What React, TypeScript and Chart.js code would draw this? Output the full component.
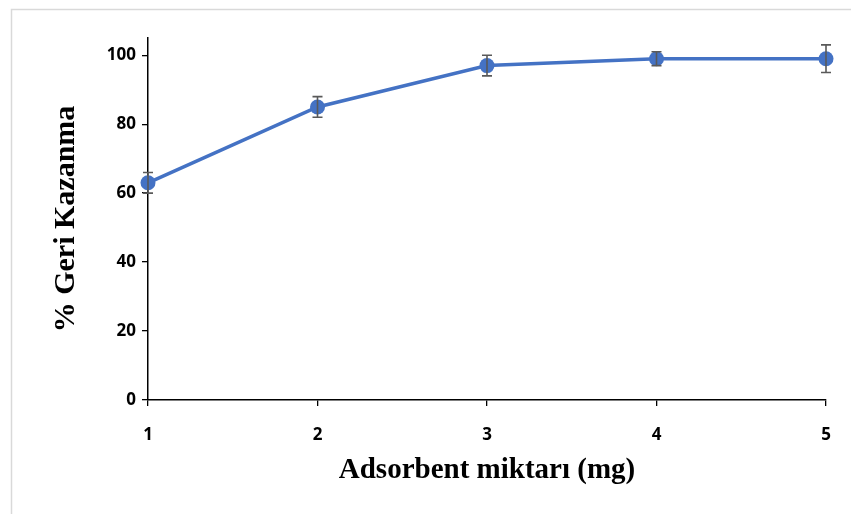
import React, { useEffect, useRef } from "react";
import { Chart, registerables } from "chart.js";

Chart.register(...registerables);

const categories = [1, 2, 3, 4, 5];
const recovery = [63, 85, 97, 99, 99];
const errors = [3, 3, 3, 2, 4];
const yTicks = [0, 20, 40, 60, 80, 100];

const xTitle = "Adsorbent miktarı (mg)";
const yTitle = "% Geri Kazanma";

const frameAndErrorBars = {
  id: "frameAndErrorBars",
  beforeDraw(chart: any) {
    const ctx = chart.ctx;
    ctx.save();
    ctx.strokeStyle = "#d9d9d9";
    ctx.lineWidth = 1.5;
    ctx.strokeRect(11.5, 9.5, chart.width + 20, chart.height + 20);
    ctx.restore();
  },
  afterDatasetsDraw(chart: any) {
    const ctx = chart.ctx;
    const xs = chart.scales.x;
    const ys = chart.scales.y;
    ctx.save();
    ctx.strokeStyle = "#595959";
    ctx.lineWidth = 1.6;
    recovery.forEach((v, i) => {
      const x = xs.getPixelForValue(categories[i]);
      const yTop = ys.getPixelForValue(v + errors[i]);
      const yBot = ys.getPixelForValue(v - errors[i]);
      ctx.beginPath();
      ctx.moveTo(x, yTop);
      ctx.lineTo(x, yBot);
      ctx.moveTo(x - 5, yTop);
      ctx.lineTo(x + 5, yTop);
      ctx.moveTo(x - 5, yBot);
      ctx.lineTo(x + 5, yBot);
      ctx.stroke();
    });
    ctx.restore();
  },
};

export default function App() {
  const ref = useRef<HTMLCanvasElement | null>(null);
  useEffect(() => {
    document.body.style.margin = "0";
    const canvas = ref.current!;
    const chart = new Chart(canvas, {
      type: "line",
      data: {
        datasets: [
          {
            data: categories.map((c, i) => ({ x: c, y: recovery[i] })),
            borderColor: "#4472C4",
            backgroundColor: "#4472C4",
            borderWidth: 3.5,
            pointRadius: 7.5,
            pointBorderWidth: 0,
            pointBackgroundColor: "#4472C4",
            tension: 0,
            clip: false,
          },
        ],
      },
      options: {
        animation: false,
        responsive: false,
        maintainAspectRatio: false,
        layout: { padding: { left: 0, top: 38, right: 25, bottom: 0 } },
        plugins: { legend: { display: false }, tooltip: { enabled: false } },
        scales: {
          x: {
            type: "linear",
            min: 1,
            max: 5,
            afterFit(scale: any) {
              scale.height = 114;
            },
            afterBuildTicks(scale: any) {
              scale.ticks = categories.map((c) => ({ value: c }));
            },
            grid: {
              drawOnChartArea: false,
              tickLength: 6,
              color: "#000",
              lineWidth: 1.3,
            },
            border: { color: "#000", width: 1.5 },
            ticks: {
              color: "#000",
              padding: 19,
              font: { family: "Open Sans", weight: "bold", size: 17 },
            },
            title: {
              display: true,
              text: xTitle,
              color: "#000",
              padding: { top: 0, bottom: 26 },
              font: { family: "Liberation Serif", weight: "bold", size: 29, lineHeight: 1.2 },
            },
          },
          y: {
            type: "linear",
            min: 0,
            max: 105,
            afterFit(scale: any) {
              scale.width = 148;
            },
            afterBuildTicks(scale: any) {
              scale.ticks = yTicks.map((t) => ({ value: t }));
            },
            grid: {
              drawOnChartArea: false,
              tickLength: 6,
              color: "#000",
              lineWidth: 1.3,
            },
            border: { color: "#000", width: 1.5 },
            ticks: {
              color: "#000",
              padding: 6,
              font: { family: "Open Sans", weight: "bold", size: 17 },
            },
            title: {
              display: true,
              text: yTitle,
              color: "#000",
              padding: { top: 48, bottom: 0 },
              font: { family: "Liberation Serif", weight: "bold", size: 30, lineHeight: 1.2 },
            },
          },
        },
      },
      plugins: [frameAndErrorBars],
    } as any);
    return () => chart.destroy();
  }, []);
  return (
    <div style={{ width: 851, height: 514 }}>
      <canvas ref={ref} width={851} height={514} style={{ display: "block" }} />
    </div>
  );
}
